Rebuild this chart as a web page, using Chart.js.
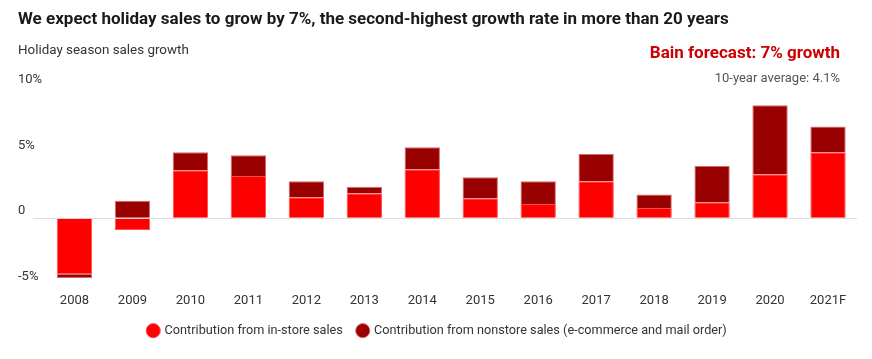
<!DOCTYPE html>
<html>
<head>
<meta charset="utf-8">
<script src="https://cdn.jsdelivr.net/npm/chart.js@4"></script>
<style>
  body { margin: 0; background: #fff; font-family: Roboto, "Liberation Sans", sans-serif; }
  .wrap { position: relative; width: 872px; height: 359px; }
  canvas { position: absolute; left: 0; top: 0; }
  .title { position: absolute; left: 18px; top: 8px; font-size: 17px; font-weight: 700; color: #1a1a1a; }
  .sub { position: absolute; left: 18px; top: 42px; font-size: 13.4px; color: #333; }
  .forecast { position: absolute; right: 32px; top: 42px; font-size: 17px; font-weight: 700; color: #cc0000; }
  .avg { position: absolute; right: 32px; top: 70px; font-size: 13px; color: #555; }
</style>
</head>
<body>
<div class="wrap">
  <canvas id="chart" width="872" height="359"></canvas>
  <div class="title">We expect holiday sales to grow by 7%, the second-highest growth rate in more than 20 years</div>
  <div class="sub">Holiday season sales growth</div>
  <div class="forecast">Bain forecast: 7% growth</div>
  <div class="avg">10-year average: 4.1%</div>
</div>
<script>
const years = ["2008", "2009", "2010", "2011", "2012", "2013", "2014", "2015", "2016", "2017", "2018", "2019", "2020", "2021F"];
const inStore = [-4.27, -0.91, 3.66, 3.22, 1.6, 1.9, 3.73, 1.52, 1.07, 2.82, 0.78, 1.22, 3.35, 5.03];
const nonStore = [-0.3, 1.32, 1.37, 1.58, 1.22, 0.5, 1.68, 1.6, 1.75, 2.08, 1.02, 2.76, 5.25, 1.95];
const yTicks = [-5, 0, 5, 10];

const ctx = document.getElementById("chart").getContext("2d");
new Chart(ctx, {
  type: "bar",
  data: {
    labels: years,
    datasets: [
      {
        label: "Contribution from in-store sales",
        data: inStore,
        backgroundColor: "#ff0000",
        borderColor: "#ff4d4d",
        borderWidth: 1,
      },
      {
        label: "Contribution from nonstore sales (e-commerce and mail order)",
        data: nonStore,
        backgroundColor: "#990000",
        borderColor: "#d96a6a",
        borderWidth: 1,
      },
    ],
  },
  options: {
    responsive: false,
    animation: false,
    categoryPercentage: 0.61,
    barPercentage: 1,
    layout: { padding: { left: 18, right: 15, top: 87, bottom: 12 } },
    plugins: {
      tooltip: { enabled: false },
      legend: {
        position: "bottom",
        labels: {
          usePointStyle: true,
          pointStyle: "circle",
          boxWidth: 10,
          boxHeight: 10,
          padding: 15,
          color: "#333",
          font: { family: "Roboto", size: 12.7 },
        },
      },
    },
    scales: {
      x: {
        stacked: true,
        grid: { display: false },
        border: { display: false },
        ticks: { color: "#333", font: { family: "Roboto", size: 13 }, padding: 1 },
      },
      y: {
        stacked: true,
        min: -5,
        max: 10,
        afterBuildTicks: (axis) => {
          axis.ticks = yTicks.map((v) => ({ value: v }));
        },
        afterFit: (axis) => {
          axis.width = 27.5;
        },
        border: { display: false },
        grid: {
          color: (c) => (c.tick && c.tick.value === 0 ? "#dddddd" : "rgba(0,0,0,0)"),
          tickColor: (c) => (c.tick && c.tick.value === 0 ? "#dddddd" : "rgba(0,0,0,0)"),
          tickLength: 12,
        },
        ticks: {
          crossAlign: "far",
          labelOffset: -7,
          color: "#333",
          font: { family: "Roboto", size: 13 },
          callback: (v) => (v === 0 ? "0" : v + "%"),
        },
      },
    },
  },
});
</script>
</body>
</html>
